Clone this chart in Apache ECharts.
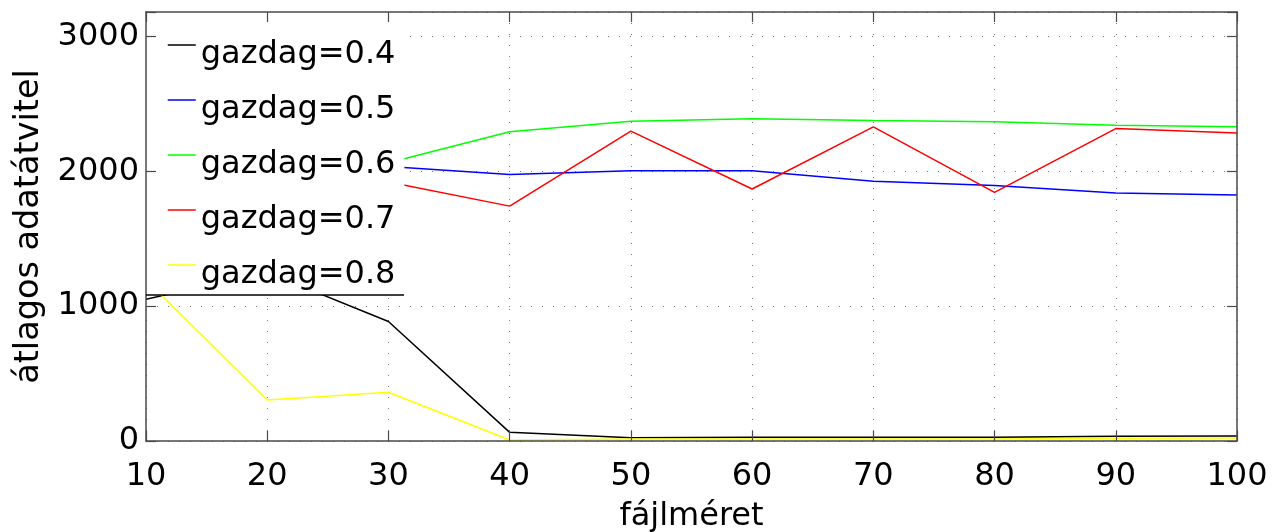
<!DOCTYPE html>
<html><head><meta charset="utf-8">
<script src="https://cdn.jsdelivr.net/npm/echarts@6/dist/echarts.min.js"></script>
<style>html,body{margin:0;padding:0;background:#fff}#c{width:1272px;height:532px}</style>
</head><body><div id="c"></div>
<script>
// ---- data ----
const fileSizes = [10, 20, 30, 40, 50, 60, 70, 80, 90, 100];
const seriesNames = ['gazdag=0.4', 'gazdag=0.5', 'gazdag=0.6', 'gazdag=0.7', 'gazdag=0.8'];
const gazdag04 = [1050, 1250, 886, 64, 25, 28, 28, 28, 35, 37];
const gazdag05 = [1430, 1920, 2034, 1975, 2004, 2004, 1925, 1893, 1839, 1824];
const gazdag06 = [1393, 1750, 2062, 2292, 2370, 2388, 2375, 2366, 2341, 2329];
const gazdag07 = [1294, 1566, 1920, 1741, 2297, 1868, 2329, 1843, 2316, 2284];
const gazdag08 = [1195, 304, 361, 7, 15, 15, 15, 15, 20, 22];
const yTickLabels = [0, 1000, 2000, 3000];
const xTickLabels = [10, 20, 30, 40, 50, 60, 70, 80, 90, 100];
const seriesColors = ['#000000', '#0000ff', '#00ff00', '#ff0000', '#ffff00'];
const allValues = [gazdag04, gazdag05, gazdag06, gazdag07, gazdag08];

const FONT = 'DejaVu Sans';
const Y_MAX = 3180;
const frameColor = '#4a4a4a';

const chart = echarts.init(document.getElementById('c'), null, {renderer: 'canvas'});

const frameX = (pos, extra) => Object.assign({
  type: 'value', position: pos, min: xTickLabels[0], max: xTickLabels[xTickLabels.length - 1], interval: 10,
  gridIndex: 0, z: 20,
  axisLine: {show: true, onZero: false, lineStyle: {color: frameColor, width: 1.5}},
  axisTick: {show: true, inside: true, length: 10, lineStyle: {color: frameColor, width: 1.2}},
  axisLabel: {show: false},
  splitLine: {show: false}
}, extra || {});
const frameY = (pos, extra) => Object.assign({
  type: 'value', position: pos, min: 0, max: Y_MAX, interval: 1000,
  gridIndex: 0, z: 20,
  axisLine: {show: true, onZero: false, lineStyle: {color: frameColor, width: 1.5}},
  axisTick: {show: true, inside: true, length: 10, lineStyle: {color: frameColor, width: 1.2}},
  axisLabel: {show: false},
  splitLine: {show: false}
}, extra || {});

const option = {
  animation: false,
  backgroundColor: '#fff',
  grid: {left: 146, top: 12, right: 35, bottom: 91, containLabel: false, outerBoundsMode: 'none'},
  xAxis: [
    frameX('bottom', {
      name: 'fájlméret', nameLocation: 'middle', nameGap: 60,
      nameTextStyle: {fontFamily: FONT, fontSize: 32, color: '#000'},
      axisLabel: {show: true, margin: 20, fontFamily: FONT, fontSize: 32, color: '#000',
        formatter: v => xTickLabels.includes(v) ? String(v) : ''}
    }),
    frameX('top'),
    {type: 'value', position: 'bottom', min: 10, max: 100, interval: 10, z: 0,
      axisLine: {show: false}, axisTick: {show: false}, axisLabel: {show: false},
      splitLine: {show: true, lineStyle: {color: '#777', width: 1, type: [1, 10]}}}
  ],
  yAxis: [
    frameY('left', {
      name: 'átlagos adatátvitel', nameLocation: 'middle', nameGap: 91,
      nameTextStyle: {fontFamily: FONT, fontSize: 33.5, color: '#000'},
      axisLabel: {show: true, margin: 7, fontFamily: FONT, fontSize: 32, color: '#000',
        padding: [5, 0, 0, 0],
        formatter: v => yTickLabels.includes(v) ? String(v) : ''}
    }),
    frameY('right'),
    {type: 'value', position: 'left', min: 0, max: Y_MAX, interval: 1000, z: 0,
      axisLine: {show: false}, axisTick: {show: false}, axisLabel: {show: false},
      splitLine: {show: true, lineStyle: {color: '#777', width: 1, type: [1, 10]}}}
  ],
  legend: {
    orient: 'vertical', left: 146, top: 12,
    padding: [7, 9, 4, 21], itemGap: 3, itemWidth: 28, itemHeight: 14,
    backgroundColor: '#fff', z: 10, selectedMode: false,
    itemStyle: {opacity: 0, borderWidth: 0},
    lineStyle: {width: 1.5},
    formatter: name => '{t|' + name + '}',
    textStyle: {fontFamily: FONT, fontSize: 32, color: '#000', lineHeight: 52,
      rich: {t: {fontFamily: FONT, fontSize: 32, color: '#000', lineHeight: 52, verticalAlign: 'bottom'}}},
    data: seriesNames
  },
  graphic: [{
    type: 'line', z: 25,
    shape: {x1: 146, y1: 295, x2: 404, y2: 295},
    style: {stroke: '#000', lineWidth: 1.5}
  }],
  series: seriesNames.map((name, i) => ({
    name: name, type: 'line', xAxisIndex: 0, yAxisIndex: 0,
    symbol: 'none', showSymbol: false, smooth: false, z: 2,
    color: seriesColors[i],
    lineStyle: {color: seriesColors[i], width: 1.5},
    data: fileSizes.map((x, j) => [x, allValues[i][j]])
  }))
};
chart.setOption(option);
</script>
</body></html>
